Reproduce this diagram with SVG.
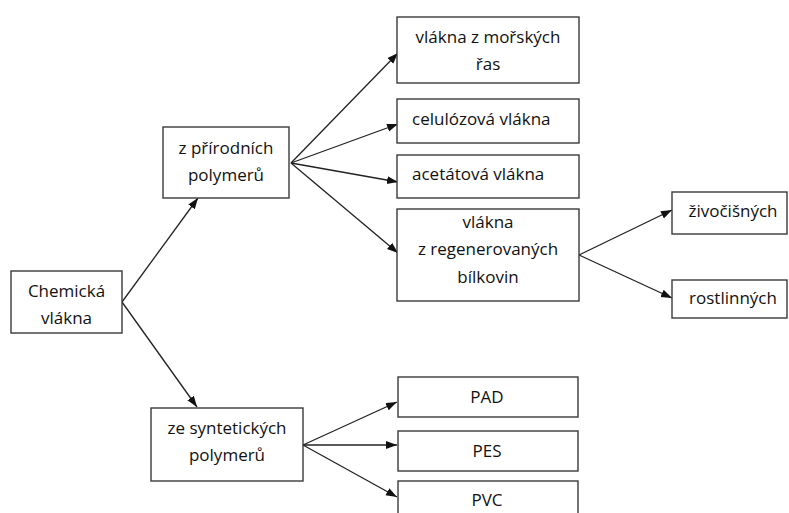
<svg xmlns="http://www.w3.org/2000/svg" width="789" height="513" viewBox="0 0 789 513">
<style>
.box{fill:#fff;stroke:#3a3a3a;stroke-width:1.4}
.t{font-family:"Open Sans","Liberation Sans",sans-serif;font-size:17px;fill:#111;text-anchor:middle}
.l{text-anchor:start}
.c{stroke:#222;stroke-width:1.3;fill:none;marker-end:url(#ah)}
</style>
<defs>
<marker id="ah" markerUnits="userSpaceOnUse" markerWidth="12" markerHeight="10" refX="11" refY="4" orient="auto">
<path d="M0,0 L11,4 L0,8 Z" fill="#111"/>
</marker>
</defs>
<rect width="789" height="513" fill="#fff"/>
<g id="connectors">
<line class="c" x1="122" y1="302" x2="198" y2="198"/>
<line class="c" x1="122" y1="302" x2="197" y2="407"/>
<line class="c" x1="291" y1="163" x2="398" y2="53"/>
<line class="c" x1="291" y1="163" x2="398" y2="124"/>
<line class="c" x1="291" y1="163" x2="398" y2="182"/>
<line class="c" x1="291" y1="163" x2="398" y2="253"/>
<line class="c" x1="579" y1="255" x2="672" y2="210"/>
<line class="c" x1="579" y1="255" x2="672" y2="298"/>
<line class="c" x1="303" y1="445" x2="397" y2="402"/>
<line class="c" x1="303" y1="445" x2="397" y2="445"/>
<line class="c" x1="303" y1="445" x2="397" y2="497"/>
</g>
<g id="chemicka">
<rect class="box" x="11" y="271" width="111" height="62"/>
<text class="t" x="66.5" y="297">Chemická</text>
<text class="t" x="66.5" y="324">vlákna</text>
</g>
<g id="prirodni">
<rect class="box" x="163" y="127" width="126" height="71"/>
<text class="t" x="226" y="154">z přírodních</text>
<text class="t" x="226" y="181">polymerů</text>
</g>
<g id="syntet">
<rect class="box" x="151" y="408" width="152" height="73"/>
<text class="t" x="227" y="434">ze syntetických</text>
<text class="t" x="227" y="461">polymerů</text>
</g>
<g id="morske">
<rect class="box" x="397" y="17" width="182" height="66"/>
<text class="t" x="488" y="43">vlákna z mořských</text>
<text class="t" x="488" y="70">řas</text>
</g>
<g id="celuloz">
<rect class="box" x="397" y="99" width="182" height="44"/>
<text class="t l" x="412" y="125">celulózová vlákna</text>
</g>
<g id="acetat">
<rect class="box" x="397" y="155" width="182" height="43"/>
<text class="t l" x="412" y="180">acetátová vlákna</text>
</g>
<g id="regen">
<rect class="box" x="397" y="209" width="182" height="92"/>
<text class="t" x="488" y="228">vlákna</text>
<text class="t" x="488" y="255">z regenerovaných</text>
<text class="t" x="488" y="283">bílkovin</text>
</g>
<g id="zivocisne">
<rect class="box" x="672" y="192" width="115" height="42"/>
<text class="t" x="733" y="217">živočišných</text>
</g>
<g id="rostlinne">
<rect class="box" x="672" y="280" width="115" height="38"/>
<text class="t" x="733" y="304">rostlinných</text>
</g>
<g id="pad">
<rect class="box" x="398" y="377" width="180" height="40"/>
<text class="t" x="487" y="403">PAD</text>
</g>
<g id="pes">
<rect class="box" x="398" y="431" width="180" height="40"/>
<text class="t" x="487" y="457">PES</text>
</g>
<g id="pvc">
<rect class="box" x="398" y="481" width="180" height="40"/>
<text class="t" x="487" y="506">PVC</text>
</g>
</svg>
